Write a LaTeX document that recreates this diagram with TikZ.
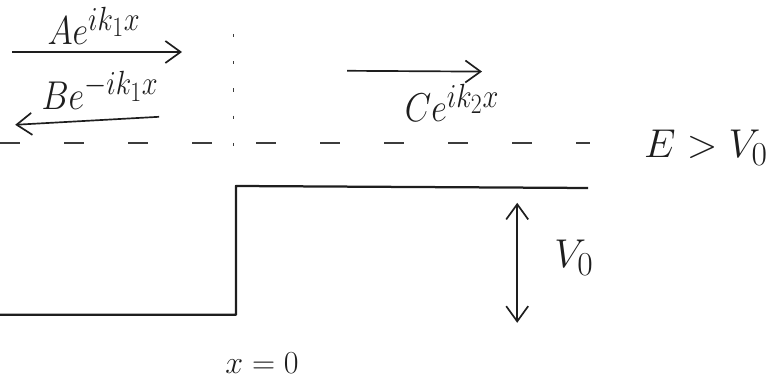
\documentclass[tikz,border=0pt]{standalone}
\definecolor{InkColor}{RGB}{30,30,30}
\definecolor{DotGray}{RGB}{60,60,60}
\usepackage{amsmath, amssymb}
\usepackage{tikz}
\usetikzlibrary{positioning, arrows.meta}

\tikzset{
  wall/.style={line width=1.6pt, InkColor, line join=round},
  wave/.style={line width=1.2pt, InkColor, -{Straight Barb[length=3.8mm, width=5.5mm]}},
  gap/.style={line width=1.2pt, InkColor, {Straight Barb[length=3.8mm, width=5.5mm]}-{Straight Barb[length=3.8mm, width=5.5mm]}},
  bigtext/.style={InkColor, font=\Huge, scale=1.15, transform shape, anchor=base},
  wavetext/.style={bigtext, xscale=0.85},
  smalltext/.style={InkColor, font=\huge, scale=1.1, transform shape, anchor=base}
}

\begin{document}
\begin{tikzpicture}
          \useasboundingbox (0,0) rectangle (19.35,9.45);
          % incoming and reflected waves
          \node[wavetext] (ampA) at (2.35,8.33) {$Ae^{ik_1x}$};
          \draw[wave] (0.3,8.15) -- (4.55,8.15);
          \node[wavetext] (ampB) at (2.5,6.72) {$Be^{-ik_1x}$};
          \draw[wave] (3.98,6.53) -- (0.38,6.33);
          % transmitted wave
          \draw[wave] (8.68,7.68) -- (12.05,7.66);
          \node[wavetext] (ampC) at (11.3,6.4) {$Ce^{ik_2x}$};
          % energy level and x = 0
          \draw[line width=1.2pt, DotGray, dash pattern=on 0.5cm off 1.1cm] (0,5.88) -- (14.75,5.88);
          \draw[thick, DotGray, dash pattern=on 0.08cm off 0.6cm] (5.83,8.6) -- (5.83,5.3);
          \node[bigtext] (energy) at (17.65,5.5) {$E > V_0$};
          % potential step
          \coordinate (stepfoot) at (5.9,1.58);
          \coordinate (steptop) at (5.9,4.8);
          \draw[wall] (0,1.58) -- (stepfoot) -- (steptop) -- (14.7,4.75);
          \draw[gap] (12.93,4.38) -- (12.93,1.38);
          \node[bigtext] (height) at (14.35,2.75) {$V_0$};
          \node[smalltext] (origin) at (6.55,0.12) {$x = 0$};
        \end{tikzpicture}
\end{document}
